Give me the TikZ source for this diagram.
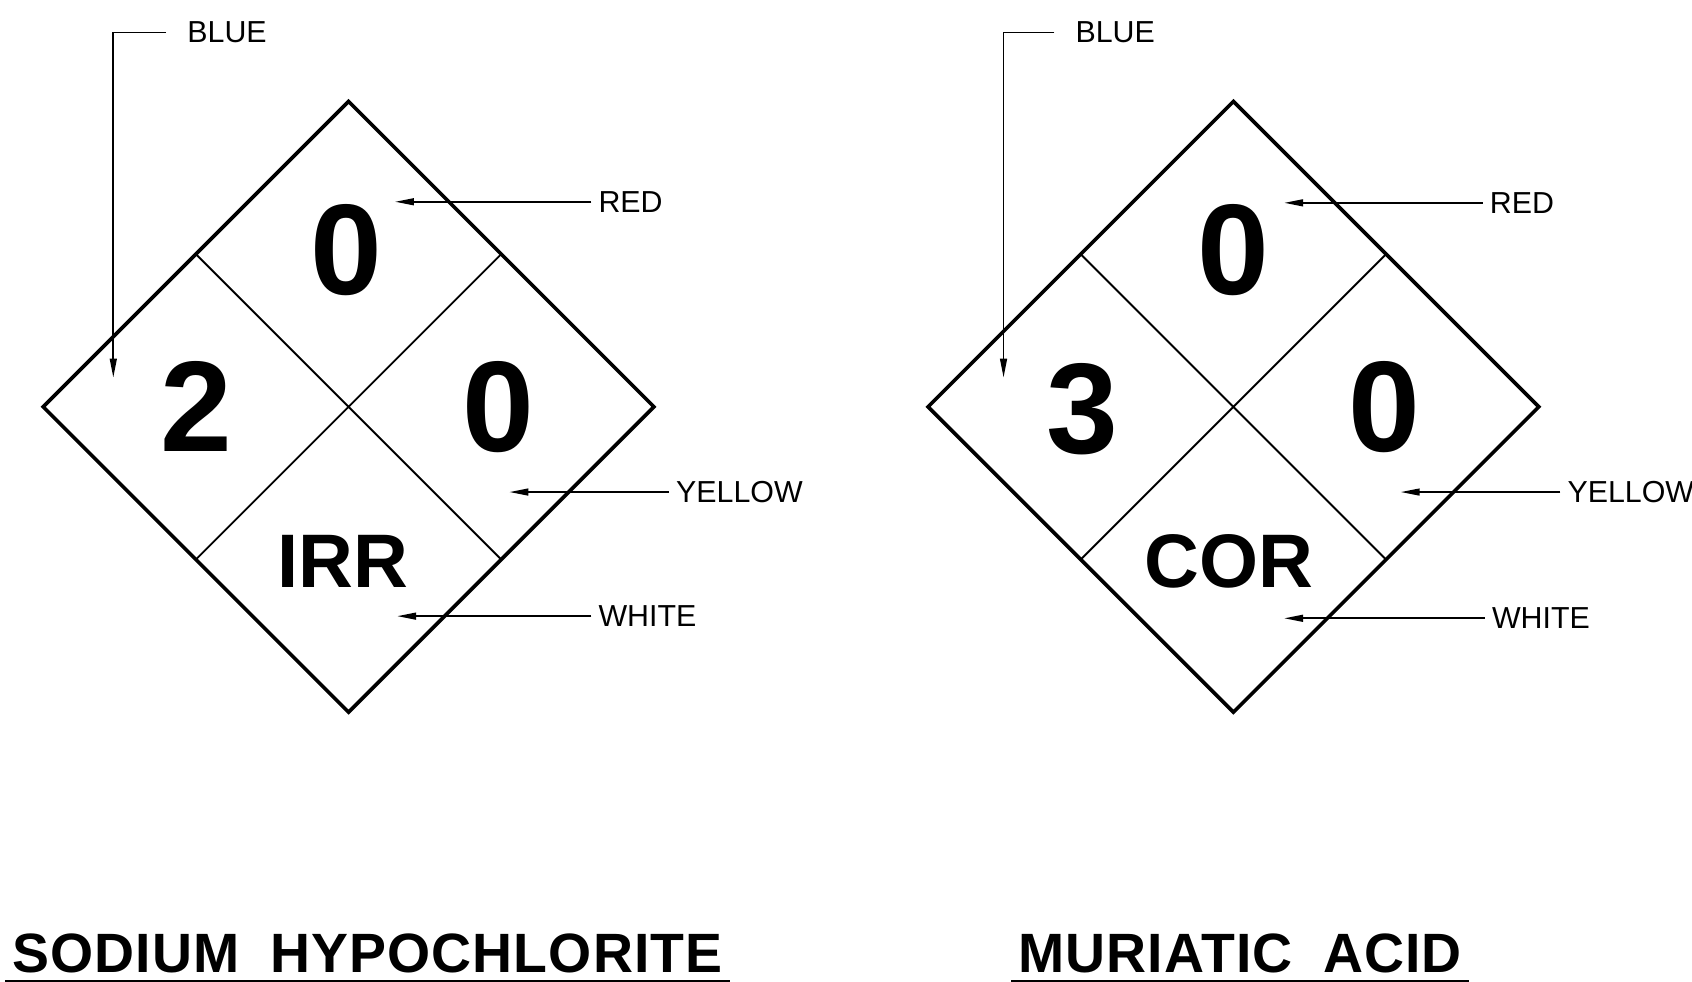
\documentclass[tikz,border=0pt]{standalone}
\usepackage{fontspec}
\setmainfont{Liberation Sans}
\usetikzlibrary{arrows.meta}
\tikzset{
         lbl/.style={font=\fontsize{8}{8}\selectfont,inner sep=1.7pt},
         num/.style={font=\fontsize{34}{34}\selectfont\bfseries,inner sep=0pt},
         abbr/.style={font=\fontsize{20}{20}\selectfont\bfseries,inner sep=0pt},
         title/.style={font=\fontsize{14.6}{14.6}\selectfont\bfseries\addfontfeatures{LetterSpace=2},inner sep=1.7pt},
         lead/.style={line width=0.45pt,-{Triangle[length=5pt,width=1.8pt]}},
         outer/.style={line width=0.95pt,line join=miter},
         inner/.style={line width=0.5pt},
         uline/.style={line width=0.6pt}
        }

\begin{document}
\begin{tikzpicture}[x=0.01cm,y=-0.01cm]
\useasboundingbox (0,0) rectangle (1568,910);
% sodium hypochlorite placard
\draw[outer] (323,94)--(606,377)--(323,660)--(40,377)--cycle; % outline
\draw[inner] (181.5,235.5)--(464.5,518.5)(464.5,235.5)--(181.5,518.5); % quarters
\node[num] (redL) at (321,232) {0}; % health/fire/reactivity
\node[num] (blueL) at (182,377) {2};
\node[num] (yellowL) at (462,377) {0};
\node[abbr] (whiteL) at (318,520) {IRR}; % special
\node[lbl,anchor=west] (blueLtxt) at (167,30) {BLUE};
\node[lbl,anchor=west] (redLtxt) at (548,187) {RED};
\node[lbl,anchor=west] (yellowLtxt) at (620,456) {YELLOW};
\node[lbl,anchor=west] (whiteLtxt) at (548,571) {WHITE};
\coordinate (blueLtip) at (105,350);
\coordinate (redLtip) at (366,187);
\coordinate (yellowLtip) at (472,456);
\coordinate (whiteLtip) at (368,571);
\draw[lead] ([xshift=-0.13cm]blueLtxt.west) -| (blueLtip); % leaders
\draw[lead] (redLtxt.west) -- (redLtip);
\draw[lead] (yellowLtxt.west) -- (yellowLtip);
\draw[lead] (whiteLtxt.west) -- (whiteLtip);
\node[title,anchor=west] (nameL) at (5,884) {SODIUM\hspace{0.55em}HYPOCHLORITE};
\draw[uline] (nameL.south west) -- (nameL.south east); % underline
% muriatic acid placard
\draw[outer] (1143,94)--(1426,377)--(1143,660)--(860,377)--cycle; % outline
\draw[inner] (1001.5,235.5)--(1284.5,518.5)(1284.5,235.5)--(1001.5,518.5); % quarters
\node[num] (redR) at (1143,232) {0};
\node[num] (blueR) at (1003,379) {3};
\node[num] (yellowR) at (1283,377) {0};
\node[abbr] (whiteR) at (1139,520) {COR};
\node[lbl,anchor=west] (blueRtxt) at (990,30) {BLUE};
\node[lbl,anchor=west] (redRtxt) at (1374,188) {RED};
\node[lbl,anchor=west] (yellowRtxt) at (1446,456) {YELLOW};
\node[lbl,anchor=west] (whiteRtxt) at (1376,573) {WHITE};
\coordinate (blueRtip) at (930,350);
\coordinate (redRtip) at (1190,188);
\coordinate (yellowRtip) at (1298,456);
\coordinate (whiteRtip) at (1190,573);
\draw[lead] ([xshift=-0.13cm]blueRtxt.west) -| (blueRtip);
\draw[lead] (redRtxt.west) -- (redRtip);
\draw[lead] (yellowRtxt.west) -- (yellowRtip);
\draw[lead] (whiteRtxt.west) -- (whiteRtip);
\node[title,anchor=west] (nameR) at (937,884) {MURIATIC\hspace{0.55em}ACID};
\draw[uline] (nameR.south west) -- (nameR.south east);
\end{tikzpicture}
\end{document}
